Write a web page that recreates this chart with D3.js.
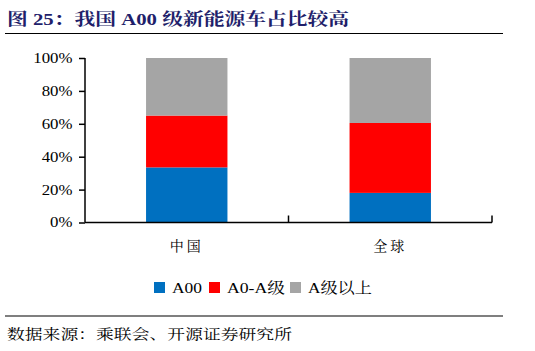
<!DOCTYPE html>
<html><head><meta charset="utf-8">
<script src="https://cdn.jsdelivr.net/npm/d3@7"></script>
<style>body{margin:0;background:#fff}svg{display:block}</style>
</head><body>
<script>
const categories = ["中国", "全球"];
const seriesNames = ["A00", "A0-A级", "A级以上"];
const a00 = [33.5, 18];
const a0a = [31.5, 42.5];
const aAbove = [35, 39.5];
const yTicks = [0, 20, 40, 60, 80, 100];
const colors = ["#0070C0", "#FF0000", "#A5A5A5"];

(function () {
const W = 535, H = 351;
const svg = d3.select("body").append("svg").attr("width", W).attr("height", H);
const serif = "'Liberation Serif','Times New Roman','Noto Serif CJK SC','Noto Sans CJK SC',serif";

// stretch text horizontally by a factor (reference glyphs are widened)
function stretch(sel, k) {
  sel.each(function () {
    const n = this.getComputedTextLength();
    d3.select(this).attr("textLength", n * k).attr("lengthAdjust", "spacingAndGlyphs");
  });
}
function fitTo(sel, w) {
  sel.attr("textLength", w).attr("lengthAdjust", "spacingAndGlyphs");
}

// Title
const title = svg.append("text").attr("x", 7).attr("y", 24.5)
  .attr("font-family", serif).attr("font-size", 17).attr("font-weight", "bold")
  .attr("fill", "#1F1F6B").text("图 25：我国 A00 级新能源车占比较高");
fitTo(title, 342);
svg.append("line").attr("x1", 5).attr("x2", 503).attr("y1", 33.5).attr("y2", 33.5)
  .attr("stroke", "#000").attr("stroke-width", 1.2);

const pLeft = 85, pRight = 492, pTop = 58, pBottom = 222.5;
const x = d3.scaleBand().domain(categories).range([pLeft, pRight]).paddingInner(0).paddingOuter(0);
const y = d3.scaleLinear().domain([0, 100]).range([pBottom, pTop]);

const data = categories.map((c, i) => ({cat: c, A00: a00[i], "A0-A级": a0a[i], "A级以上": aAbove[i]}));
const stack = d3.stack().keys(seriesNames)(data);
const bw = x.bandwidth() * 0.4;

svg.append("g").selectAll("g").data(stack).join("g")
  .attr("fill", (d, i) => colors[i])
  .selectAll("rect").data(d => d).join("rect")
  .attr("x", d => x(d.data.cat) + (x.bandwidth() - bw) / 2)
  .attr("width", bw)
  .attr("y", d => y(d[1]))
  .attr("height", d => y(d[0]) - y(d[1]));

// Y axis
const yAxis = svg.append("g").attr("transform", `translate(${pLeft},0)`)
  .call(d3.axisLeft(y).tickValues(yTicks).tickSize(6).tickPadding(6.5).tickFormat(d => d + "%"));
yAxis.select(".domain").attr("stroke", "#000").attr("stroke-width", 1.5).attr("d", `M0,${pTop}V${pBottom}`);
yAxis.selectAll(".tick line").attr("stroke", "#000").attr("stroke-width", 1.5);
const yt = yAxis.selectAll("text").attr("font-family", serif).attr("font-size", 14).attr("fill", "#000");
stretch(yt, 1.2);

// X axis
const xg = svg.append("g").attr("transform", `translate(0,${pBottom})`);
xg.append("line").attr("x1", pLeft).attr("x2", pRight).attr("y1", 0).attr("y2", 0)
  .attr("stroke", "#000").attr("stroke-width", 1.5);
const bounds = categories.map(c => x(c) + x.bandwidth());
xg.selectAll("line.tk").data(bounds).join("line").attr("class", "tk")
  .attr("x1", d => d).attr("x2", d => d).attr("y1", 0).attr("y2", -7)
  .attr("stroke", "#000").attr("stroke-width", 1.5);
const xt = xg.selectAll("text").data(categories).join("text")
  .attr("x", d => x(d) + x.bandwidth() / 2).attr("y", 28)
  .attr("text-anchor", "middle").attr("font-family", serif).attr("font-size", 14)
  .attr("letter-spacing", 3).attr("fill", "#000").text(d => d);

// Legend
const legendX = [154, 209, 290];
const legendW = [30, 58, 64];
const lg = svg.append("g");
seriesNames.forEach((n, i) => {
  lg.append("rect").attr("x", legendX[i]).attr("y", 282).attr("width", 11).attr("height", 11).attr("fill", colors[i]);
  const t = lg.append("text").attr("x", legendX[i] + 18).attr("y", 293)
    .attr("font-family", serif).attr("font-size", 15).attr("fill", "#000").text(n);
  fitTo(t, legendW[i]);
});

// Source
svg.append("line").attr("x1", 5).attr("x2", 503).attr("y1", 316).attr("y2", 316)
  .attr("stroke", "#000").attr("stroke-width", 1.2);
const src = svg.append("text").attr("x", 7).attr("y", 339)
  .attr("font-family", serif).attr("font-size", 14).attr("fill", "#000")
  .text("数据来源：乘联会、开源证券研究所");
fitTo(src, 285);
})();
</script>
</body></html>
